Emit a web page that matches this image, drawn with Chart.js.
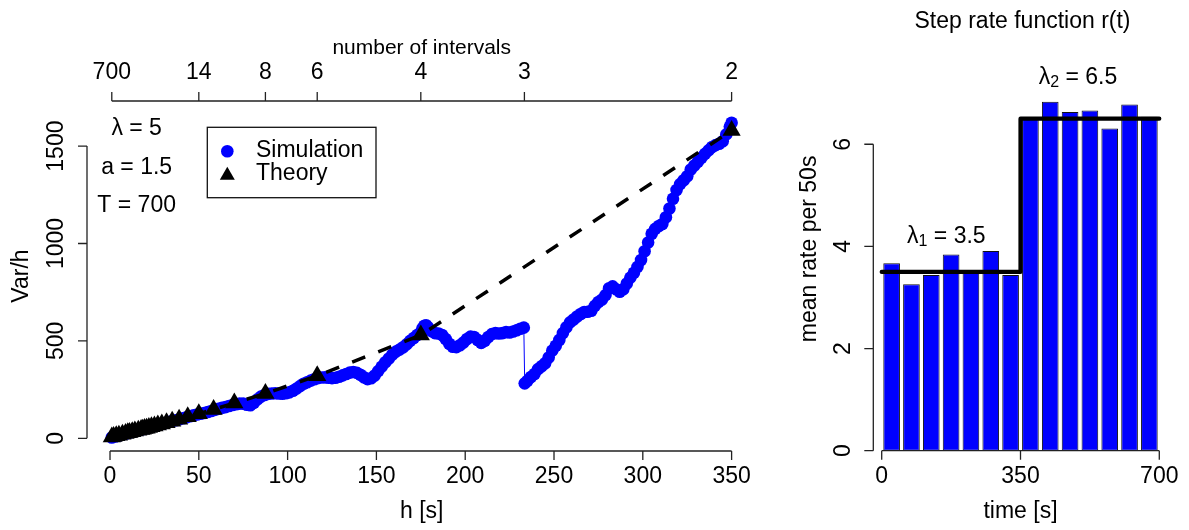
<!DOCTYPE html>
<html>
<head>
<meta charset="utf-8">
<script src="https://cdn.jsdelivr.net/npm/chart.js@4.4.1/dist/chart.umd.min.js"></script>
<style>
  body { margin: 0; background: #fff; }
  #wrap { position: relative; width: 1189px; height: 530px; }
  canvas { position: absolute; top: 0; }
</style>
</head>
<body>
<div id="wrap">
  <canvas id="varChart" width="780" height="530" style="left:0"></canvas>
  <canvas id="rateChart" width="409" height="530" style="left:780px"></canvas>
</div>
<script>
// ---- data ----
const T_TOTAL = 700;
const topIntervals = [700, 14, 8, 6, 4, 3, 2];
const hTicks = [0, 50, 100, 150, 200, 250, 300, 350];
const varTicks = [0, 500, 1000, 1500];

// simulated Var/h against bin width h
const simH = [
  1, 3, 5, 7, 9, 11, 13, 15, 17, 19,
  21, 23, 25, 27, 29, 31, 33, 35, 37, 39,
  41, 43, 45, 47, 49, 51, 53, 55, 57, 59,
  61, 63, 65, 67, 69, 71, 73, 75, 77, 79,
  81, 83, 85, 87, 89, 91, 93, 95, 97, 99,
  101, 103, 105, 107, 109, 111, 113, 115, 117, 119,
  121, 123, 125, 127, 129, 131, 133, 135, 137, 139,
  141, 143, 145, 147, 149, 151, 153, 155, 157, 159,
  161, 163, 165, 167, 169, 171, 173, 175, 176, 177,
  178, 179, 181, 183, 185, 187, 189, 191, 193, 195,
  197, 199, 201, 203, 205, 207, 209, 211, 213, 215,
  217, 219, 221, 223, 225, 227, 229, 231, 233,
  233.5, 235, 237, 239, 241, 243, 245, 247, 249, 251,
  253, 255, 257, 259, 261, 263, 265, 267, 269, 271,
  273, 275, 277, 279, 281, 283, 285, 287, 289, 291,
  293, 295, 297, 299, 301, 303, 305, 307, 309, 311,
  313, 315, 317, 319, 321, 323, 325, 327, 329, 331,
  333, 335, 337, 339, 341, 343, 345, 347, 349, 350
];
const simVar = [
  4, 9, 14, 19, 24, 29, 34, 38, 43, 48,
  53, 58, 63, 68, 73, 78, 83, 88, 93, 98,
  103, 108, 113, 118, 122, 126, 130, 135, 140, 146,
  151, 156, 160, 166, 171, 175, 178, 178, 172, 170,
  182, 200, 214, 222, 228, 230, 231, 230, 229, 231,
  236, 244, 255, 268, 280, 288, 296, 303, 309, 312,
  313, 311, 309, 311, 316, 323, 330, 337, 340, 336,
  326, 313, 304, 308, 322, 345, 368, 390, 410, 430,
  445, 455, 467, 482, 500, 515, 530, 545, 565, 578,
  580, 570, 550, 540, 538, 530, 510, 485, 470, 468,
  478, 492, 510, 522, 520, 505, 490, 500, 520, 535,
  540, 538, 540, 545, 543, 548, 555, 562, 568,
  282, 295, 315, 330, 355, 370, 385, 415, 450, 475,
  505, 540, 570, 595, 610, 625, 638, 648, 650, 655,
  680, 700, 712, 735, 770, 780, 765, 752, 765, 795,
  825, 850, 880, 915, 960, 1005, 1050, 1075, 1090, 1100,
  1135, 1180, 1230, 1275, 1305, 1325, 1345, 1380, 1400, 1420,
  1440, 1460, 1478, 1495, 1505, 1512, 1525, 1560, 1600, 1620
];

// theoretical Var/h at h = T/n for even n
const theoryH = [1, 2, 3.5, 5, 7, 8.75, 10, 10.94, 12.5, 14, 15.91, 17.5, 18.42, 19.44, 20.59,
  21.88, 23.33, 25, 26.92, 29.17, 31.82, 35, 38.89, 43.75, 50, 58.33, 70, 87.5, 116.67, 175, 350];
const theoryVar = [7, 9.5, 13, 16, 21, 25, 28, 30, 34, 37, 41, 45, 47, 50, 52,
  55, 59, 63, 68, 73, 80, 88, 98, 110, 126, 148, 181, 230, 321, 530, 1580];

// right panel: counts per 50 s bin and the step rate
const binMid = [25, 75, 125, 175, 225, 275, 325, 375, 425, 475, 525, 575, 625, 675];
const binRate = [3.67, 3.26, 3.44, 3.84, 3.48, 3.91, 3.44, 6.52, 6.83, 6.63, 6.66, 6.31, 6.78, 6.54];
const stepTimes = [0, 350, 700];
const stepRates = [3.5, 6.5, 6.5];
const timeTicks = [0, 350, 700];
const rateTicks = [0, 2, 4, 6];

// ---- drawing helpers (base-graphics look) ----
const FONT = '"Liberation Sans", Arial, sans-serif';
const FS = 23;
const TICK = 9;
const AXIS = '#222';

function text(ctx, s, x, y, size, rot) {
  ctx.save();
  ctx.translate(x, y);
  if (rot) ctx.rotate(rot);
  ctx.font = (size || FS) + 'px ' + FONT;
  ctx.fillStyle = '#000';
  ctx.textAlign = 'center';
  ctx.textBaseline = 'middle';
  ctx.fillText(s, 0, 0);
  ctx.restore();
}

// horizontal axis: line from first to last tick, ticks pointing out (dir = +1 down, -1 up)
function hAxis(ctx, scale, y, vals, labels, dir, labelY) {
  const px = vals.map(v => scale.getPixelForValue(v));
  ctx.save();
  ctx.strokeStyle = AXIS;
  ctx.lineWidth = 1.3;
  ctx.beginPath();
  ctx.moveTo(px[0], y);
  ctx.lineTo(px[px.length - 1], y);
  px.forEach(p => { ctx.moveTo(p, y); ctx.lineTo(p, y + dir * TICK); });
  ctx.stroke();
  ctx.restore();
  px.forEach((p, i) => text(ctx, String(labels[i]), p, labelY));
}

function vAxis(ctx, scale, x, vals, labelX) {
  const py = vals.map(v => scale.getPixelForValue(v));
  ctx.save();
  ctx.strokeStyle = AXIS;
  ctx.lineWidth = 1.3;
  ctx.beginPath();
  ctx.moveTo(x, py[0]);
  ctx.lineTo(x, py[py.length - 1]);
  py.forEach(p => { ctx.moveTo(x, p); ctx.lineTo(x - TICK, p); });
  ctx.stroke();
  ctx.restore();
  py.forEach((p, i) => text(ctx, String(vals[i]), labelX, p, FS, -Math.PI / 2));
}

// "λ = v" or "λ₁ = v" the way plotmath sets it
function lambdaText(ctx, sub, value, cx, cy) {
  ctx.save();
  ctx.fillStyle = '#000';
  ctx.textBaseline = 'middle';
  ctx.textAlign = 'left';
  ctx.font = FS + 'px ' + FONT;
  const wl = ctx.measureText('λ').width;
  const rest = ' = ' + value;
  const wr = ctx.measureText(rest).width;
  ctx.font = '16px ' + FONT;
  const ws = sub ? ctx.measureText(sub).width : 0;
  let x = cx - (wl + ws + wr) / 2;
  ctx.font = FS + 'px ' + FONT;
  ctx.fillText('λ', x, cy);
  x += wl;
  if (sub) {
    ctx.font = '16px ' + FONT;
    ctx.fillText(sub, x, cy + 5);
    x += ws;
  }
  ctx.font = FS + 'px ' + FONT;
  ctx.fillText(rest, x, cy);
  ctx.restore();
}

const varAxes = {
  id: 'varAxes',
  afterDraw(chart) {
    const { ctx, chartArea: a, scales: { x, y } } = chart;
    hAxis(ctx, x, a.bottom, hTicks, hTicks, 1, a.bottom + 26);
    vAxis(ctx, y, a.left, varTicks, a.left - 30);
    hAxis(ctx, x, a.top, topIntervals.map(n => T_TOTAL / n), topIntervals, -1, a.top - 28.5);

    const cx = (a.left + a.right) / 2;
    text(ctx, 'h [s]', cx, a.bottom + 60.5);
    text(ctx, 'Var/h', a.left - 65.5, (a.top + a.bottom) / 2, FS, -Math.PI / 2);
    text(ctx, 'number of intervals', cx, a.top - 53, 21);

    // parameters of the step process
    const px = x.getPixelForValue(15);
    lambdaText(ctx, '', '5', px, y.getPixelForValue(1592));
    text(ctx, 'a = 1.5', px, y.getPixelForValue(1390));
    text(ctx, 'T = 700', px, y.getPixelForValue(1195));

    // legend
    const lx = a.left + 120.3, ly = a.top + 26.3;
    ctx.save();
    ctx.strokeStyle = '#111';
    ctx.lineWidth = 1.3;
    ctx.strokeRect(lx, ly, 168.7, 70.4);
    ctx.fillStyle = '#0000ff';
    ctx.beginPath();
    ctx.arc(lx + 20, ly + 24, 6.3, 0, Math.PI * 2);
    ctx.fill();
    ctx.fillStyle = '#000';
    ctx.beginPath();
    const tx = lx + 20, ty = ly + 48;
    ctx.moveTo(tx, ty - 8.5);
    ctx.lineTo(tx + 7.5, ty + 4.5);
    ctx.lineTo(tx - 7.5, ty + 4.5);
    ctx.closePath();
    ctx.fill();
    ctx.textAlign = 'left';
    ctx.textBaseline = 'middle';
    ctx.font = FS + 'px ' + FONT;
    ctx.fillText('Simulation', lx + 48.7, ly + 23.5);
    ctx.fillText('Theory', lx + 48.7, ly + 46.5);
    ctx.restore();
  }
};

const rateAxes = {
  id: 'rateAxes',
  afterDraw(chart) {
    const { ctx, chartArea: a, scales: { x, y } } = chart;
    hAxis(ctx, x, a.bottom, timeTicks, timeTicks, 1, a.bottom + 26);
    vAxis(ctx, y, a.left, rateTicks, a.left - 29.5);
    const cx = (a.left + a.right) / 2;
    text(ctx, 'time [s]', cx, a.bottom + 60.5);
    text(ctx, 'mean rate per 50s', a.left - 63.5, (a.top + a.bottom) / 2, FS, -Math.PI / 2);
    text(ctx, 'Step rate function r(t)', cx + 2, 21.5);
    lambdaText(ctx, '1', '3.5', x.getPixelForValue(163), y.getPixelForValue(4.19));
    lambdaText(ctx, '2', '6.5', x.getPixelForValue(495), y.getPixelForValue(7.3));
  }
};

const common = {
  responsive: false,
  animation: false,
  devicePixelRatio: 1,
  events: [],
  plugins: { legend: { display: false }, tooltip: { enabled: false } }
};

new Chart(document.getElementById('varChart'), {
  type: 'scatter',
  data: {
    datasets: [
      {
        label: 'Theory',
        data: theoryH.map((h, i) => ({ x: h, y: theoryVar[i] })),
        showLine: true,
        borderColor: '#000',
        borderWidth: 3.5,
        borderDash: [14, 14],
        borderCapStyle: 'butt',
        pointStyle: 'triangle',
        pointRadius: 10.5,
        pointBackgroundColor: '#000',
        pointBorderWidth: 0,
        order: 0
      },
      {
        label: 'Simulation',
        data: simH.map((h, i) => ({ x: h, y: simVar[i] })),
        showLine: true,
        borderColor: '#0000ff',
        borderWidth: 1,
        pointRadius: 6.3,
        pointBackgroundColor: '#0000ff',
        pointBorderWidth: 0,
        order: 1
      }
    ]
  },
  options: Object.assign({}, common, {
    layout: { padding: { left: 87, right: 23.6, top: 101, bottom: 79 } },
    scales: {
      x: { type: 'linear', min: -12.96, max: 363.96, display: false },
      y: { type: 'linear', min: -65.2, max: 1731.5, display: false }
    }
  }),
  plugins: [varAxes]
});

new Chart(document.getElementById('rateChart'), {
  type: 'bar',
  data: {
    datasets: [
      {
        type: 'line',
        data: stepTimes.map((t, i) => ({ x: t, y: stepRates[i] })),
        stepped: 'before',
        borderColor: '#000',
        borderWidth: 4.2,
        borderCapStyle: 'round',
        borderJoinStyle: 'round',
        pointRadius: 0,
        order: 0
      },
      {
        type: 'bar',
        data: binMid.map((t, i) => ({ x: t, y: binRate[i] })),
        backgroundColor: '#0000ff',
        borderColor: '#111',
        borderWidth: 1,
        borderSkipped: false,
        barPercentage: 0.84,
        categoryPercentage: 1,
        order: 1
      }
    ]
  },
  options: Object.assign({}, common, {
    layout: { padding: { left: 93.3, right: 21.3, top: 47.2, bottom: 79.3 } },
    scales: {
      x: { type: 'linear', min: -21.2, max: 721.2, offset: false, display: false },
      y: { type: 'linear', min: 0, max: 7.9, display: false }
    }
  }),
  plugins: [rateAxes]
});
</script>
</body>
</html>
